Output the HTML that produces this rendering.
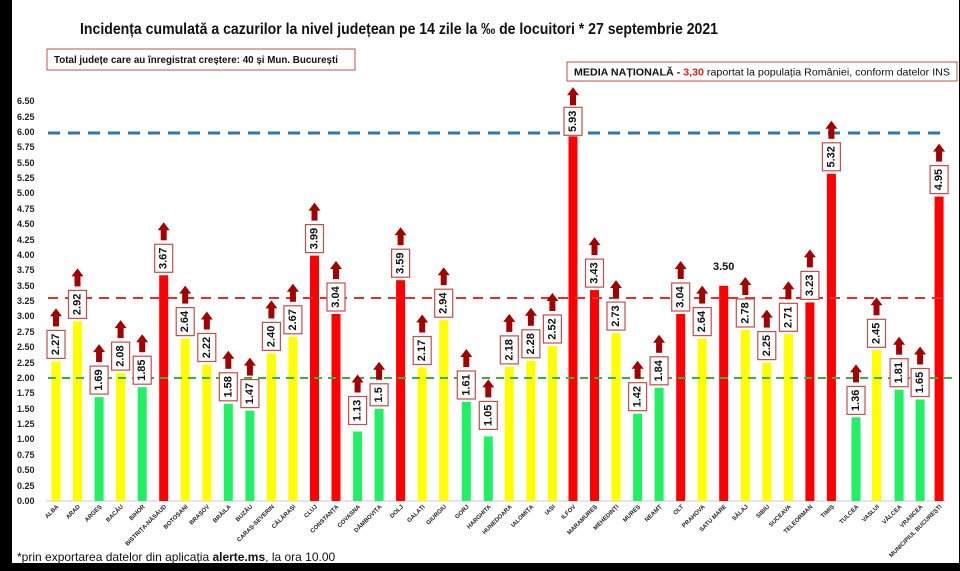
<!DOCTYPE html>
<html><head><meta charset="utf-8"><style>
html,body{margin:0;padding:0;background:#000}
svg{display:block}
.y{fill:#ffff00}.g{fill:#22ee66}.r{fill:#ff0000}
.lb rect.b{fill:#fff;stroke:#c0504d;stroke-width:1.2}
.lb text{font:bold 11px "Liberation Sans",sans-serif;fill:#111;text-anchor:middle;dominant-baseline:central}
.lb polygon,.lb rect.a{fill:#a00000}
.xl{font:bold 6px "Liberation Sans",sans-serif;fill:#222;text-anchor:end}
.yt{font:bold 9px "Liberation Sans",sans-serif;fill:#222}
</style></head><body>
<svg width="960" height="571" viewBox="0 0 960 571" xmlns="http://www.w3.org/2000/svg">
<rect x="0" y="0" width="960" height="571" fill="#000"/>
<rect x="12" y="0" width="947" height="563" fill="#fff"/>
<text x="399" y="34" text-anchor="middle" textLength="638" lengthAdjust="spacingAndGlyphs" style="font:bold 16px 'Liberation Sans',sans-serif;fill:#111">Incidența cumulată a cazurilor la nivel județean pe 14 zile la ‰ de locuitori * 27 septembrie 2021</text>
<rect x="47" y="49" width="308" height="21" fill="#fff" stroke="#c0504d" stroke-width="1"/>
<text x="54" y="63" textLength="284" lengthAdjust="spacingAndGlyphs" style="font:bold 10px 'Liberation Sans',sans-serif;fill:#111">Total județe care au înregistrat creștere:  40 și Mun. București</text>
<rect x="567" y="62" width="390" height="19" fill="#fff" stroke="#c0504d" stroke-width="1"/>
<text x="574" y="75.5" textLength="376" lengthAdjust="spacingAndGlyphs" style="font:10px 'Liberation Sans',sans-serif;fill:#111"><tspan font-weight="bold">MEDIA NAȚIONALĂ   - </tspan><tspan font-weight="bold" fill="#e02020">3,30</tspan> raportat la populația României, conform datelor INS</text>
<g class="yt">
<text x="17" y="504">0.00</text><text x="17" y="489">0.25</text><text x="17" y="473">0.50</text><text x="17" y="458">0.75</text><text x="17" y="442">1.00</text><text x="17" y="427">1.25</text><text x="17" y="412">1.50</text><text x="17" y="396">1.75</text><text x="17" y="381">2.00</text><text x="17" y="366">2.25</text><text x="17" y="350">2.50</text><text x="17" y="335">2.75</text><text x="17" y="319">3.00</text><text x="17" y="304">3.25</text><text x="17" y="289">3.50</text><text x="17" y="273">3.75</text><text x="17" y="258">4.00</text><text x="17" y="243">4.25</text><text x="17" y="227">4.50</text><text x="17" y="212">4.75</text><text x="17" y="196">5.00</text><text x="17" y="181">5.25</text><text x="17" y="166">5.50</text><text x="17" y="150">5.75</text><text x="17" y="135">6.00</text><text x="17" y="120">6.25</text><text x="17" y="104">6.50</text>
</g>
<line x1="46" y1="501" x2="946" y2="501" stroke="#ccc" stroke-width="1"/>
<!-- bars -->
<g>
<rect class="y" x="51.5" y="361.4" width="9" height="139.6"/>
<rect class="y" x="73" y="321.4" width="9" height="179.6"/>
<rect class="g" x="94.6" y="397.1" width="9" height="103.9"/>
<rect class="y" x="116.1" y="373.1" width="9" height="127.9"/>
<rect class="g" x="137.7" y="387.2" width="9" height="113.8"/>
<rect class="r" x="159.2" y="275.3" width="9" height="225.7"/>
<rect class="y" x="180.7" y="338.6" width="9" height="162.4"/>
<rect class="y" x="202.3" y="364.5" width="9" height="136.5"/>
<rect class="g" x="223.8" y="403.8" width="9" height="97.2"/>
<rect class="g" x="245.4" y="410.6" width="9" height="90.4"/>
<rect class="y" x="266.9" y="353.4" width="9" height="147.6"/>
<rect class="y" x="288.4" y="336.8" width="9" height="164.2"/>
<rect class="r" x="310" y="255.6" width="9" height="245.4"/>
<rect class="r" x="331.5" y="314" width="9" height="187"/>
<rect class="g" x="353.1" y="431.5" width="9" height="69.5"/>
<rect class="g" x="374.6" y="408.8" width="9" height="92.2"/>
<rect class="r" x="396.1" y="280.2" width="9" height="220.8"/>
<rect class="y" x="417.7" y="367.5" width="9" height="133.5"/>
<rect class="y" x="439.2" y="320.2" width="9" height="180.8"/>
<rect class="g" x="461.8" y="402" width="9" height="99"/>
<rect class="g" x="483.8" y="436.4" width="9" height="64.6"/>
<rect class="y" x="504.8" y="366.9" width="9" height="134.1"/>
<rect class="y" x="526.4" y="360.8" width="9" height="140.2"/>
<rect class="y" x="547.9" y="346" width="9" height="155"/>
<rect class="r" x="568.5" y="136.3" width="9" height="364.7"/>
<rect class="r" x="590" y="290.1" width="9" height="210.9"/>
<rect class="y" x="611.5" y="333.1" width="9" height="167.9"/>
<rect class="g" x="633.1" y="413.7" width="9" height="87.3"/>
<rect class="g" x="654.6" y="387.8" width="9" height="113.2"/>
<rect class="r" x="676.2" y="314" width="9" height="187"/>
<rect class="y" x="697.7" y="338.6" width="9" height="162.4"/>
<rect class="r" x="719.2" y="285.8" width="9" height="215.2"/>
<rect class="y" x="740.8" y="330" width="9" height="171"/>
<rect class="y" x="762.3" y="362.6" width="9" height="138.4"/>
<rect class="y" x="783.9" y="334.3" width="9" height="166.7"/>
<rect class="r" x="805.4" y="302.4" width="9" height="198.6"/>
<rect class="r" x="826.9" y="173.8" width="9" height="327.2"/>
<rect class="g" x="851.5" y="417.4" width="9" height="83.6"/>
<rect class="y" x="872" y="350.3" width="9" height="150.7"/>
<rect class="g" x="894.6" y="389.7" width="9" height="111.3"/>
<rect class="g" x="915.6" y="399.5" width="9" height="101.5"/>
<rect class="r" x="934.6" y="196.6" width="9" height="304.4"/>
</g>
<!-- reference lines -->
<line x1="48" y1="133" x2="942" y2="133" stroke="#2e75b6" stroke-width="3" stroke-dasharray="12 8"/>
<line x1="48" y1="298" x2="942" y2="298" stroke="#e03030" stroke-width="2" stroke-dasharray="10 7"/>
<line x1="48" y1="378" x2="952" y2="378" stroke="#3cb043" stroke-width="2" stroke-dasharray="8 6"/>
<!-- labels -->
<g class="lb">
<g transform="translate(56,361.4)"><rect class="b" x="-9" y="-31" width="18" height="28"/><text transform="translate(0,-17) rotate(-90)">2.27</text><polygon points="-6,-45 0,-53 6,-45"/><rect class="a" x="-3" y="-46" width="6" height="11"/></g>
<g transform="translate(77.5,321.4)"><rect class="b" x="-9" y="-31" width="18" height="28"/><text transform="translate(0,-17) rotate(-90)">2.92</text><polygon points="-6,-45 0,-53 6,-45"/><rect class="a" x="-3" y="-46" width="6" height="11"/></g>
<g transform="translate(99.1,397.1)"><rect class="b" x="-9" y="-31" width="18" height="28"/><text transform="translate(0,-17) rotate(-90)">1.69</text><polygon points="-6,-45 0,-53 6,-45"/><rect class="a" x="-3" y="-46" width="6" height="11"/></g>
<g transform="translate(120.6,373.1)"><rect class="b" x="-9" y="-31" width="18" height="28"/><text transform="translate(0,-17) rotate(-90)">2.08</text><polygon points="-6,-45 0,-53 6,-45"/><rect class="a" x="-3" y="-46" width="6" height="11"/></g>
<g transform="translate(142.2,387.2)"><rect class="b" x="-9" y="-31" width="18" height="28"/><text transform="translate(0,-17) rotate(-90)">1.85</text><polygon points="-6,-45 0,-53 6,-45"/><rect class="a" x="-3" y="-46" width="6" height="11"/></g>
<g transform="translate(163.7,275.3)"><rect class="b" x="-9" y="-31" width="18" height="28"/><text transform="translate(0,-17) rotate(-90)">3.67</text><polygon points="-6,-45 0,-53 6,-45"/><rect class="a" x="-3" y="-46" width="6" height="11"/></g>
<g transform="translate(185.2,338.6)"><rect class="b" x="-9" y="-31" width="18" height="28"/><text transform="translate(0,-17) rotate(-90)">2.64</text><polygon points="-6,-45 0,-53 6,-45"/><rect class="a" x="-3" y="-46" width="6" height="11"/></g>
<g transform="translate(206.8,364.5)"><rect class="b" x="-9" y="-31" width="18" height="28"/><text transform="translate(0,-17) rotate(-90)">2.22</text><polygon points="-6,-45 0,-53 6,-45"/><rect class="a" x="-3" y="-46" width="6" height="11"/></g>
<g transform="translate(228.3,403.8)"><rect class="b" x="-9" y="-31" width="18" height="28"/><text transform="translate(0,-17) rotate(-90)">1.58</text><polygon points="-6,-45 0,-53 6,-45"/><rect class="a" x="-3" y="-46" width="6" height="11"/></g>
<g transform="translate(249.9,410.6)"><rect class="b" x="-9" y="-31" width="18" height="28"/><text transform="translate(0,-17) rotate(-90)">1.47</text><polygon points="-6,-45 0,-53 6,-45"/><rect class="a" x="-3" y="-46" width="6" height="11"/></g>
<g transform="translate(271.4,353.4)"><rect class="b" x="-9" y="-31" width="18" height="28"/><text transform="translate(0,-17) rotate(-90)">2.40</text><polygon points="-6,-45 0,-53 6,-45"/><rect class="a" x="-3" y="-46" width="6" height="11"/></g>
<g transform="translate(292.9,336.8)"><rect class="b" x="-9" y="-31" width="18" height="28"/><text transform="translate(0,-17) rotate(-90)">2.67</text><polygon points="-6,-45 0,-53 6,-45"/><rect class="a" x="-3" y="-46" width="6" height="11"/></g>
<g transform="translate(314.5,255.6)"><rect class="b" x="-9" y="-31" width="18" height="28"/><text transform="translate(0,-17) rotate(-90)">3.99</text><polygon points="-6,-45 0,-53 6,-45"/><rect class="a" x="-3" y="-46" width="6" height="11"/></g>
<g transform="translate(336,314)"><rect class="b" x="-9" y="-31" width="18" height="28"/><text transform="translate(0,-17) rotate(-90)">3.04</text><polygon points="-6,-45 0,-53 6,-45"/><rect class="a" x="-3" y="-46" width="6" height="11"/></g>
<g transform="translate(357.6,431.5)"><rect class="b" x="-9" y="-35" width="18" height="28"/><text transform="translate(0,-21) rotate(-90)">1.13</text><polygon points="-6,-49 0,-57 6,-49"/><rect class="a" x="-3" y="-50" width="6" height="11"/></g>
<g transform="translate(379.1,408.8)"><rect class="b" x="-9" y="-25" width="18" height="22"/><text transform="translate(0,-14) rotate(-90)">1.5</text><polygon points="-6,-39 0,-47 6,-39"/><rect class="a" x="-3" y="-40" width="6" height="11"/></g>
<g transform="translate(400.6,280.2)"><rect class="b" x="-9" y="-31" width="18" height="28"/><text transform="translate(0,-17) rotate(-90)">3.59</text><polygon points="-6,-45 0,-53 6,-45"/><rect class="a" x="-3" y="-46" width="6" height="11"/></g>
<g transform="translate(422.2,367.5)"><rect class="b" x="-9" y="-31" width="18" height="28"/><text transform="translate(0,-17) rotate(-90)">2.17</text><polygon points="-6,-45 0,-53 6,-45"/><rect class="a" x="-3" y="-46" width="6" height="11"/></g>
<g transform="translate(443.7,320.2)"><rect class="b" x="-9" y="-31" width="18" height="28"/><text transform="translate(0,-17) rotate(-90)">2.94</text><polygon points="-6,-45 0,-53 6,-45"/><rect class="a" x="-3" y="-46" width="6" height="11"/></g>
<g transform="translate(466.3,402)"><rect class="b" x="-9" y="-31" width="18" height="28"/><text transform="translate(0,-17) rotate(-90)">1.61</text><polygon points="-6,-45 0,-53 6,-45"/><rect class="a" x="-3" y="-46" width="6" height="11"/></g>
<g transform="translate(488.3,436.4)"><rect class="b" x="-9" y="-35" width="18" height="28"/><text transform="translate(0,-21) rotate(-90)">1.05</text><polygon points="-6,-49 0,-57 6,-49"/><rect class="a" x="-3" y="-50" width="6" height="11"/></g>
<g transform="translate(509.3,366.9)"><rect class="b" x="-9" y="-31" width="18" height="28"/><text transform="translate(0,-17) rotate(-90)">2.18</text><polygon points="-6,-45 0,-53 6,-45"/><rect class="a" x="-3" y="-46" width="6" height="11"/></g>
<g transform="translate(530.9,360.8)"><rect class="b" x="-9" y="-31" width="18" height="28"/><text transform="translate(0,-17) rotate(-90)">2.28</text><polygon points="-6,-45 0,-53 6,-45"/><rect class="a" x="-3" y="-46" width="6" height="11"/></g>
<g transform="translate(552.4,346)"><rect class="b" x="-9" y="-31" width="18" height="28"/><text transform="translate(0,-17) rotate(-90)">2.52</text><polygon points="-6,-45 0,-53 6,-45"/><rect class="a" x="-3" y="-46" width="6" height="11"/></g>
<g transform="translate(573,136.3)"><rect class="b" x="-9" y="-29" width="18" height="28"/><text transform="translate(0,-15) rotate(-90)">5.93</text><polygon points="-6,-41 0,-49 6,-41"/><rect class="a" x="-3" y="-42" width="6" height="11"/></g>
<g transform="translate(594.5,290.1)"><rect class="b" x="-9" y="-31" width="18" height="28"/><text transform="translate(0,-17) rotate(-90)">3.43</text><polygon points="-6,-45 0,-53 6,-45"/><rect class="a" x="-3" y="-46" width="6" height="11"/></g>
<g transform="translate(616,333.1)"><rect class="b" x="-9" y="-31" width="18" height="28"/><text transform="translate(0,-17) rotate(-90)">2.73</text><polygon points="-6,-45 0,-53 6,-45"/><rect class="a" x="-3" y="-46" width="6" height="11"/></g>
<g transform="translate(637.6,413.7)"><rect class="b" x="-9" y="-31" width="18" height="28"/><text transform="translate(0,-17) rotate(-90)">1.42</text><polygon points="-6,-45 0,-53 6,-45"/><rect class="a" x="-3" y="-46" width="6" height="11"/></g>
<g transform="translate(659.1,387.8)"><rect class="b" x="-9" y="-31" width="18" height="28"/><text transform="translate(0,-17) rotate(-90)">1.84</text><polygon points="-6,-45 0,-53 6,-45"/><rect class="a" x="-3" y="-46" width="6" height="11"/></g>
<g transform="translate(680.7,314)"><rect class="b" x="-9" y="-31" width="18" height="28"/><text transform="translate(0,-17) rotate(-90)">3.04</text><polygon points="-6,-45 0,-53 6,-45"/><rect class="a" x="-3" y="-46" width="6" height="11"/></g>
<g transform="translate(702.2,338.6)"><rect class="b" x="-9" y="-31" width="18" height="28"/><text transform="translate(0,-17) rotate(-90)">2.64</text><polygon points="-6,-45 0,-53 6,-45"/><rect class="a" x="-3" y="-46" width="6" height="11"/></g>
<g transform="translate(745.3,330)"><rect class="b" x="-9" y="-31" width="18" height="28"/><text transform="translate(0,-17) rotate(-90)">2.78</text><polygon points="-6,-45 0,-53 6,-45"/><rect class="a" x="-3" y="-46" width="6" height="11"/></g>
<g transform="translate(766.8,362.6)"><rect class="b" x="-9" y="-31" width="18" height="28"/><text transform="translate(0,-17) rotate(-90)">2.25</text><polygon points="-6,-45 0,-53 6,-45"/><rect class="a" x="-3" y="-46" width="6" height="11"/></g>
<g transform="translate(788.4,334.3)"><rect class="b" x="-9" y="-31" width="18" height="28"/><text transform="translate(0,-17) rotate(-90)">2.71</text><polygon points="-6,-45 0,-53 6,-45"/><rect class="a" x="-3" y="-46" width="6" height="11"/></g>
<g transform="translate(809.9,302.4)"><rect class="b" x="-9" y="-31" width="18" height="28"/><text transform="translate(0,-17) rotate(-90)">3.23</text><polygon points="-6,-45 0,-53 6,-45"/><rect class="a" x="-3" y="-46" width="6" height="11"/></g>
<g transform="translate(831.4,173.8)"><rect class="b" x="-9" y="-31" width="18" height="28"/><text transform="translate(0,-17) rotate(-90)">5.32</text><polygon points="-6,-45 0,-53 6,-45"/><rect class="a" x="-3" y="-46" width="6" height="11"/></g>
<g transform="translate(856,417.4)"><rect class="b" x="-9" y="-31" width="18" height="28"/><text transform="translate(0,-17) rotate(-90)">1.36</text><polygon points="-6,-45 0,-53 6,-45"/><rect class="a" x="-3" y="-46" width="6" height="11"/></g>
<g transform="translate(876.5,350.3)"><rect class="b" x="-9" y="-31" width="18" height="28"/><text transform="translate(0,-17) rotate(-90)">2.45</text><polygon points="-6,-45 0,-53 6,-45"/><rect class="a" x="-3" y="-46" width="6" height="11"/></g>
<g transform="translate(899.1,389.7)"><rect class="b" x="-9" y="-31" width="18" height="28"/><text transform="translate(0,-17) rotate(-90)">1.81</text><polygon points="-6,-45 0,-53 6,-45"/><rect class="a" x="-3" y="-46" width="6" height="11"/></g>
<g transform="translate(920.1,399.5)"><rect class="b" x="-9" y="-31" width="18" height="28"/><text transform="translate(0,-17) rotate(-90)">1.65</text><polygon points="-6,-45 0,-53 6,-45"/><rect class="a" x="-3" y="-46" width="6" height="11"/></g>
<g transform="translate(939.1,196.6)"><rect class="b" x="-9" y="-31" width="18" height="28"/><text transform="translate(0,-17) rotate(-90)">4.95</text><polygon points="-6,-45 0,-53 6,-45"/><rect class="a" x="-3" y="-46" width="6" height="11"/></g>
</g>
<text x="723.7" y="270" text-anchor="middle" style="font:bold 11px 'Liberation Sans',sans-serif;fill:#111">3.50</text>
<!-- x labels -->
<g class="xl">
<text transform="translate(59,507) rotate(-45)">ALBA</text>
<text transform="translate(80.5,507) rotate(-45)">ARAD</text>
<text transform="translate(102.1,507) rotate(-45)">ARGEȘ</text>
<text transform="translate(123.6,507) rotate(-45)">BACĂU</text>
<text transform="translate(145.2,507) rotate(-45)">BIHOR</text>
<text transform="translate(166.7,507) rotate(-45)">BISTRIȚA-NĂSĂUD</text>
<text transform="translate(188.2,507) rotate(-45)">BOTOȘANI</text>
<text transform="translate(209.8,507) rotate(-45)">BRAȘOV</text>
<text transform="translate(231.3,507) rotate(-45)">BRĂILA</text>
<text transform="translate(252.9,507) rotate(-45)">BUZĂU</text>
<text transform="translate(274.4,507) rotate(-45)">CARAȘ-SEVERIN</text>
<text transform="translate(295.9,507) rotate(-45)">CĂLĂRAȘI</text>
<text transform="translate(317.5,507) rotate(-45)">CLUJ</text>
<text transform="translate(339,507) rotate(-45)">CONSTANȚA</text>
<text transform="translate(360.6,507) rotate(-45)">COVASNA</text>
<text transform="translate(382.1,507) rotate(-45)">DÂMBOVIȚA</text>
<text transform="translate(403.6,507) rotate(-45)">DOLJ</text>
<text transform="translate(425.2,507) rotate(-45)">GALAȚI</text>
<text transform="translate(446.7,507) rotate(-45)">GIURGIU</text>
<text transform="translate(469.3,507) rotate(-45)">GORJ</text>
<text transform="translate(491.3,507) rotate(-45)">HARGHITA</text>
<text transform="translate(512.3,507) rotate(-45)">HUNEDOARA</text>
<text transform="translate(533.9,507) rotate(-45)">IALOMIȚA</text>
<text transform="translate(555.4,507) rotate(-45)">IAȘI</text>
<text transform="translate(576,507) rotate(-45)">ILFOV</text>
<text transform="translate(597.5,507) rotate(-45)">MARAMUREȘ</text>
<text transform="translate(619,507) rotate(-45)">MEHEDINȚI</text>
<text transform="translate(640.6,507) rotate(-45)">MUREȘ</text>
<text transform="translate(662.1,507) rotate(-45)">NEAMȚ</text>
<text transform="translate(683.7,507) rotate(-45)">OLT</text>
<text transform="translate(705.2,507) rotate(-45)">PRAHOVA</text>
<text transform="translate(726.7,507) rotate(-45)">SATU MARE</text>
<text transform="translate(748.3,507) rotate(-45)">SĂLAJ</text>
<text transform="translate(769.8,507) rotate(-45)">SIBIU</text>
<text transform="translate(791.4,507) rotate(-45)">SUCEAVA</text>
<text transform="translate(812.9,507) rotate(-45)">TELEORMAN</text>
<text transform="translate(834.4,507) rotate(-45)">TIMIȘ</text>
<text transform="translate(859,507) rotate(-45)">TULCEA</text>
<text transform="translate(879.5,507) rotate(-45)">VASLUI</text>
<text transform="translate(902.1,507) rotate(-45)">VÂLCEA</text>
<text transform="translate(923.1,507) rotate(-45)">VRANCEA</text>
<text transform="translate(942.1,507) rotate(-45)">MUNICIPIUL BUCUREȘTI</text>
</g>
<text x="17" y="561" style="font:12px 'Liberation Sans',sans-serif;fill:#111">*prin exportarea datelor din aplicația <tspan font-weight="bold">alerte.ms</tspan>, la ora 10.00</text>
</svg>
</body></html>
